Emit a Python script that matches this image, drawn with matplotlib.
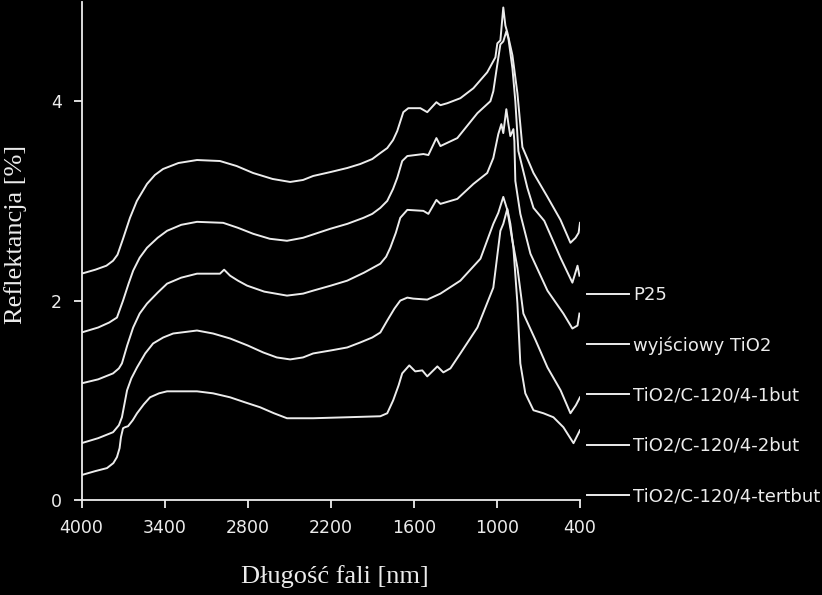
import numpy as np
import matplotlib.pyplot as plt
from matplotlib.lines import Line2D

labels = ["P25", "wyjściowy TiO2", "TiO2/C-120/4-1but", "TiO2/C-120/4-2but", "TiO2/C-120/4-tertbut"]

# P25
wl_p25 = [4000, 3900, 3820, 3772, 3740, 3700, 3650, 3600, 3527, 3470, 3411, 3300, 3166, 3000,
          2880, 2761, 2620, 2493, 2400, 2327, 2200, 2081, 1987, 1900, 1842, 1792, 1750, 1720,
          1676, 1640, 1553, 1503, 1437, 1408, 1358, 1264, 1170, 1070, 1011, 997, 975, 954,
          939, 925, 888, 852, 816, 736, 635, 541, 469, 432, 410, 400]
r_p25 = [2.27, 2.31, 2.35, 2.40, 2.46, 2.62, 2.83, 3.00, 3.17, 3.26, 3.32, 3.38, 3.41, 3.40,
         3.35, 3.28, 3.22, 3.19, 3.21, 3.25, 3.29, 3.33, 3.37, 3.42, 3.48, 3.53, 3.61, 3.70,
         3.89, 3.93, 3.93, 3.89, 3.99, 3.96, 3.98, 4.03, 4.13, 4.29, 4.44, 4.58, 4.61, 4.94,
         4.76, 4.69, 4.46, 4.08, 3.54, 3.28, 3.04, 2.81, 2.58, 2.63, 2.68, 2.78]

# wyjsciowy TiO2
wl_tio2 = [4000, 3880, 3800, 3744, 3700, 3660, 3627, 3580, 3527, 3450, 3382, 3280, 3166, 2977,
           2870, 2760, 2640, 2516, 2400, 2204, 2080, 1964, 1900, 1842, 1792, 1750, 1720, 1684,
           1647, 1531, 1495, 1437, 1408, 1286, 1141, 1047, 1026, 997, 975, 954, 932,
           917, 888, 867, 845, 780, 736, 658, 541, 455, 418, 404]
r_tio2 = [1.68, 1.73, 1.78, 1.83, 2.00, 2.17, 2.30, 2.43, 2.53, 2.63, 2.70, 2.76, 2.79, 2.78,
          2.73, 2.67, 2.62, 2.60, 2.63, 2.72, 2.77, 2.83, 2.87, 2.93, 3.00, 3.12, 3.23, 3.40,
          3.45, 3.47, 3.46, 3.63, 3.55, 3.63, 3.88, 4.00, 4.10, 4.37, 4.57, 4.60, 4.70,
          4.63, 4.33, 4.00, 3.50, 3.13, 2.93, 2.80, 2.43, 2.18, 2.35, 2.25]

# TiO2/C-120/4-1but
wl_1but = [4000, 3880, 3772, 3730, 3708, 3670, 3627, 3580, 3527, 3450, 3382, 3280, 3166, 3000,
           2970, 2927, 2870, 2804, 2680, 2516, 2400, 2327, 2200, 2081, 1960, 1842, 1800, 1770,
           1730, 1698, 1647, 1531, 1495, 1437, 1408, 1286, 1170, 1070, 1026, 990, 968, 954,
           932, 917, 903, 881, 874, 867, 831, 758, 635, 520, 455, 418, 404]
r_1but = [1.17, 1.21, 1.27, 1.32, 1.37, 1.55, 1.73, 1.87, 1.97, 2.08, 2.17, 2.23, 2.27, 2.27,
          2.31, 2.25, 2.20, 2.15, 2.09, 2.05, 2.07, 2.10, 2.15, 2.20, 2.28, 2.37, 2.44, 2.53,
          2.68, 2.83, 2.91, 2.90, 2.87, 3.01, 2.97, 3.02, 3.17, 3.28, 3.43, 3.67, 3.77, 3.68,
          3.92, 3.77, 3.65, 3.72, 3.60, 3.20, 2.87, 2.47, 2.10, 1.87, 1.72, 1.75, 1.87]

# TiO2/C-120/4-2but
wl_2but = [4000, 3880, 3772, 3730, 3708, 3671, 3640, 3599, 3540, 3483, 3410, 3338, 3166, 3050,
           2927, 2800, 2688, 2590, 2493, 2400, 2327, 2200, 2081, 1987, 1900, 1842, 1792, 1740,
           1698, 1647, 1604, 1503, 1408, 1264, 1119, 1026, 990, 954, 925, 888, 852,
           809, 720, 635, 540, 469, 430, 400]
r_2but = [0.57, 0.62, 0.68, 0.75, 0.83, 1.10, 1.22, 1.33, 1.47, 1.57, 1.63, 1.67, 1.70, 1.67,
          1.62, 1.55, 1.48, 1.43, 1.41, 1.43, 1.47, 1.50, 1.53, 1.58, 1.63, 1.68, 1.80, 1.92,
          2.00, 2.03, 2.02, 2.01, 2.07, 2.20, 2.42, 2.77, 2.88, 3.04, 2.91, 2.60, 2.33,
          1.87, 1.60, 1.33, 1.10, 0.87, 0.95, 1.03]

# TiO2/C-120/4-tertbut
wl_tert = [4000, 3900, 3816, 3770, 3744, 3725, 3715, 3700, 3686, 3664, 3630, 3599, 3550, 3505,
           3440, 3382, 3166, 3050, 2927, 2820, 2710, 2610, 2516, 2327, 2081, 1842, 1792,
           1749, 1710, 1684, 1633, 1590, 1539, 1503, 1430, 1387, 1336, 1264,
           1141, 1026, 975, 954, 925, 903, 881, 852, 831, 795, 736, 664, 592, 520, 447, 400]
r_tert = [0.25, 0.29, 0.32, 0.37, 0.43, 0.52, 0.63, 0.72, 0.73, 0.74, 0.80, 0.87, 0.96, 1.03,
          1.07, 1.09, 1.09, 1.07, 1.03, 0.98, 0.93, 0.87, 0.82, 0.82, 0.83, 0.84, 0.87,
          1.00, 1.15, 1.27, 1.35, 1.29, 1.30, 1.24, 1.34, 1.28, 1.32, 1.47,
          1.73, 2.13, 2.70, 2.77, 2.92, 2.77, 2.53, 1.97, 1.37, 1.07, 0.90, 0.87, 0.83, 0.73,
          0.57, 0.70]

series = [(wl_p25, r_p25), (wl_tio2, r_tio2), (wl_1but, r_1but), (wl_2but, r_2but), (wl_tert, r_tert)]
xticks = [4000, 3400, 2800, 2200, 1600, 1000, 400]
yticks = [0, 2, 4]

fg = "#ececec"
fig = plt.figure(figsize=(8.22, 5.95), dpi=100, facecolor="black")
ax = fig.add_axes([81.5 / 822, 1 - 500 / 595, (580 - 81.5) / 822, 498.5 / 595])
ax.set_facecolor("black")

for (wl, r) in series:
    ax.plot(wl, r, color=fg, lw=1.4, solid_joinstyle="round")

ax.set_xlim(4000, 400)
ax.set_ylim(0, 5)
ax.set_xticks(xticks)
ax.set_yticks(yticks)
for s in ["top", "right"]:
    ax.spines[s].set_visible(False)
for s in ["left", "bottom"]:
    ax.spines[s].set_color(fg)
    ax.spines[s].set_linewidth(1.3)
ax.tick_params(colors=fg, length=6, width=1.3, labelsize=12.5, pad=8)

ax.set_xlabel("Długość fali [nm]", family="Liberation Serif", fontsize=19, color=fg)
ax.set_ylabel("Reflektancja [%]", family="Liberation Serif", fontsize=19, color=fg)
ax.xaxis.set_label_coords(0.508, -0.13)
ax.yaxis.set_label_coords(-0.11, 0.532)

handles = [Line2D([], [], color=fg, lw=1.4) for _ in labels]
fig.legend(handles, labels, loc="center left", bbox_to_anchor=(587 / 822, 1 - 395.5 / 595),
           frameon=False, fontsize=13, labelcolor=fg, handlelength=2.3, handletextpad=0.25,
           labelspacing=1.78, borderpad=0, borderaxespad=0)

fig.savefig("out.png", dpi=100, facecolor="black")
